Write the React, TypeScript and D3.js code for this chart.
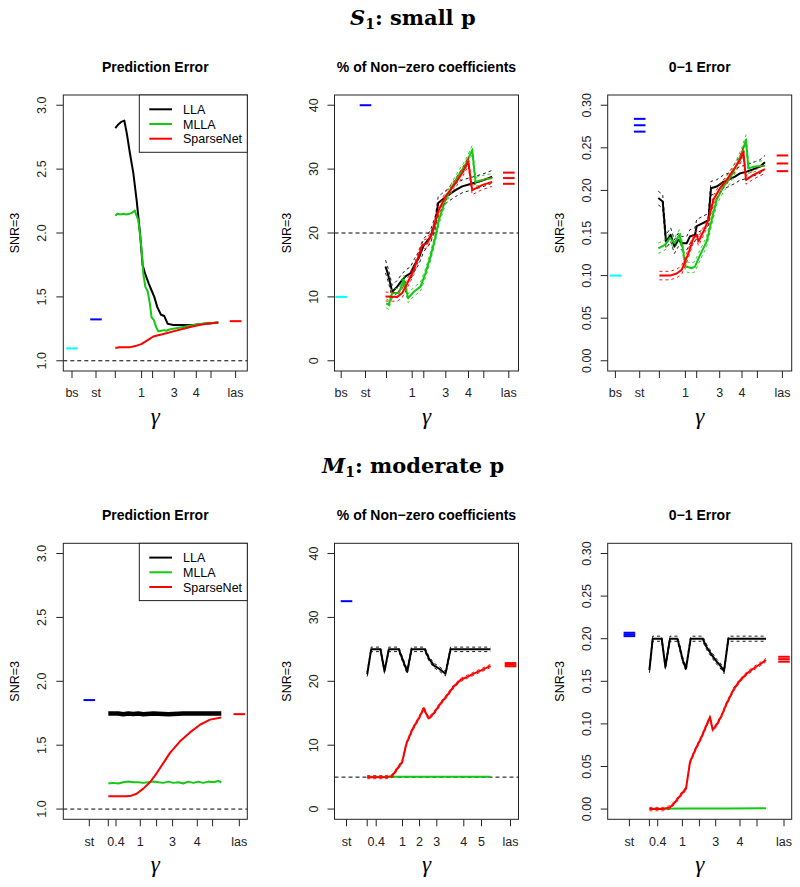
import React from "react";
import * as d3 from "d3";

type Pt = [number, number];

// ---------------- axis ticks (positions along the gamma grid) ----------------
const p1TickPos = [8.7, 32.7, 52, 78.3, 89.3, 111, 133, 147.7, 172.3];
const p2TickPos = [6.7, 31, 52, 77.7, 89.3, 111.3, 134, 149.3, 174.3];
const p3TickPos = [7.7, 32, 51.7, 77.7, 89, 112, 134.3, 149.7, 174.7];
const topTickLabels = ["bs", "st", "", "1", "", "3", "4", "", "las"];
const p4TickPos = [26, 45, 52.7, 77, 93.3, 109.3, 134, 149.3, 176];
const p5TickPos = [12, 32.7, 41.7, 68, 85, 102.3, 129.3, 147, 176];
const p6TickPos = [21.7, 41.7, 50, 74.7, 91.7, 108, 132.3, 149.3, 176.3];
const p4TickLabels = ["st", "", "0.4", "1", "", "3", "4", "", "las"];
const p5TickLabels = ["st", "", "0.4", "1", "2", "3", "4", "5", "las"];
const p6TickLabels = ["st", "", "0.4", "1", "", "3", "4", "", "las"];

const peTicks = [1.0, 1.5, 2.0, 2.5, 3.0];
const nzTicks = [0, 10, 20, 30, 40];
const zoTicks = [0, 0.05, 0.1, 0.15, 0.2, 0.25, 0.3];

const legendLabels = ["LLA", "MLLA", "SparseNet"];

// ---------------- S1 : Prediction Error ----------------
const p1LLA: Pt[] = [[52, 2.82], [55, 2.85], [58, 2.87], [61, 2.88], [63.5, 2.78], [66.7, 2.62], [70, 2.47], [73.3, 2.26], [75, 2.13], [76.7, 2.0], [79.3, 1.75], [82.3, 1.67], [85.7, 1.6], [88.3, 1.55], [91, 1.5], [94, 1.42], [97.7, 1.36], [101, 1.35], [104.3, 1.29], [110, 1.28], [120, 1.28], [130, 1.28], [140, 1.29], [150, 1.295], [155, 1.3]];
const p1MLLA: Pt[] = [[52, 2.135], [54, 2.15], [57, 2.145], [60, 2.15], [63, 2.145], [66, 2.15], [69, 2.16], [71.5, 2.175], [73, 2.14], [75, 2.1], [77, 1.97], [78.5, 1.85], [80, 1.68], [82, 1.58], [84.5, 1.54], [86.5, 1.45], [88.3, 1.34], [90.5, 1.32], [92.5, 1.27], [95, 1.23], [98, 1.235], [101, 1.24], [103, 1.235], [106, 1.245], [110, 1.25], [120, 1.265], [130, 1.28], [140, 1.29], [155, 1.3]];
const p1SN: Pt[] = [[52, 1.1], [56, 1.105], [60, 1.105], [66, 1.105], [72, 1.115], [78, 1.13], [82, 1.15], [86, 1.17], [90, 1.19], [95, 1.2], [100, 1.21], [110, 1.23], [120, 1.25], [130, 1.27], [140, 1.285], [155, 1.3]];
const p1Bs = [1.097];
const p1St = [1.324];
const p1Las = [1.31];

// ---------------- S1 : % non-zero ----------------
const p2LLA: Pt[] = [[51, 14.75], [53, 13.8], [55, 12.6], [57.7, 10.8], [62.7, 11.6], [67, 12.5], [71, 13.2], [76, 13.7], [80, 15], [84.3, 16.1], [89.3, 18.1], [96, 19.4], [101, 21.8], [103.7, 24.7], [107.7, 25.2], [114.3, 26], [121, 26.7], [127.7, 27.3], [134.3, 27.6], [141, 27.9], [147.7, 28.2], [157.7, 28.8]];
const p2MLLA: Pt[] = [[51.7, 9.0], [54.3, 8.75], [57.7, 10.6], [64.3, 10.6], [69.3, 12.7], [73.7, 9.8], [79.3, 10.8], [86, 11.6], [91, 13.7], [96, 16.3], [101, 19.4], [104.3, 22.0], [111, 25.2], [117.7, 27.3], [124.3, 29.1], [131, 30.7], [137.7, 33.0], [141, 28.0], [147.7, 28.3], [157.7, 28.6]];
const p2SN: Pt[] = [[51, 10.05], [62.7, 10], [67.7, 10.6], [72.7, 12.1], [79.3, 14.2], [87.7, 18.1], [92.7, 18.4], [97.7, 20], [104.3, 23.6], [111, 25.7], [121, 27.8], [127.7, 29.4], [133.7, 31.2], [137.7, 26.7], [147.7, 27.5], [157.7, 28.0]];
const p2Bs = [10];
const p2St = [40];
const p2Las = [29.45, 28.6, 27.7];

// ---------------- S1 : 0-1 error ----------------
const p3LLA: Pt[] = [[50.6, 0.191], [55, 0.187], [58.3, 0.14], [63, 0.148], [66.7, 0.134], [70.7, 0.142], [74, 0.138], [79, 0.138], [82.3, 0.146], [87.3, 0.148], [89, 0.158], [95.7, 0.162], [100.7, 0.165], [103.3, 0.2026], [109, 0.2045], [115.7, 0.21], [120.7, 0.2123], [127.3, 0.2162], [132.3, 0.22], [139, 0.222], [145.7, 0.2249], [152.3, 0.228], [157.3, 0.233]];
const p3MLLA: Pt[] = [[50.6, 0.132], [57.3, 0.136], [62.3, 0.144], [66.7, 0.138], [71.7, 0.148], [75, 0.132], [78, 0.1106], [84, 0.1087], [87.3, 0.1106], [92.3, 0.124], [99, 0.14], [104, 0.1654], [109, 0.189], [115.7, 0.2045], [122.3, 0.2143], [129, 0.23], [134, 0.2437], [138.3, 0.2593], [140.7, 0.226], [147.3, 0.228], [157.3, 0.229]];
const p3SN: Pt[] = [[51.7, 0.1], [62.3, 0.1], [69, 0.1025], [74, 0.1067], [80.7, 0.126], [85.7, 0.1438], [89, 0.148], [90.7, 0.14], [95.7, 0.1517], [100.7, 0.1654], [105.7, 0.189], [112.3, 0.2026], [119, 0.2123], [125.7, 0.224], [132.3, 0.2358], [135.7, 0.2455], [138.3, 0.2123], [145.7, 0.2182], [157.3, 0.225]];
const p3Bs = [0.1];
const p3St = [0.284, 0.2765, 0.269];
const p3Las = [0.241, 0.2316, 0.2226];

// ---------------- M1 : Prediction Error ----------------
const p4LLA: Pt[] = [[45, 1.748], [55, 1.748], [60, 1.742], [65, 1.748], [70, 1.745], [75, 1.748], [80, 1.742], [90, 1.748], [100, 1.745], [105, 1.742], [110, 1.745], [120, 1.748], [130, 1.748], [140, 1.748], [158, 1.748]];
const p4MLLA: Pt[] = [[45, 1.2], [50, 1.205], [55, 1.2], [60, 1.21], [65, 1.215], [70, 1.21], [75, 1.21], [80, 1.205], [85, 1.21], [90, 1.215], [95, 1.21], [100, 1.205], [105, 1.215], [110, 1.205], [115, 1.21], [120, 1.2], [125, 1.215], [130, 1.205], [135, 1.215], [140, 1.205], [145, 1.215], [150, 1.21], [155, 1.22], [158, 1.21]];
const p4SN: Pt[] = [[45, 1.1], [55, 1.1], [63.3, 1.1], [68, 1.105], [73.3, 1.12], [80, 1.16], [86.7, 1.21], [93.3, 1.28], [100, 1.36], [106.7, 1.44], [116.7, 1.53], [126.7, 1.6], [136.7, 1.66], [146.7, 1.7], [158, 1.717]];
const p4St = [1.853];
const p4Las = [1.743];

// ---------------- M1 : % non-zero ----------------
const p5LLA: Pt[] = [[32.7, 21.1], [36.7, 25.0], [46, 25.0], [50, 21.6], [54.3, 25.0], [64.3, 25.0], [72.7, 21.5], [77, 25.0], [90.3, 25.0], [94.3, 23.6], [99.3, 22.5], [104.3, 22.0], [111, 21.2], [116, 25.0], [130, 25.0], [145, 25.0], [156, 25.0]];
const p5MLLA: Pt[] = [[32.7, 5.05], [60, 5.05], [90, 5.05], [120, 5.05], [156, 5.05]];
const p5SN: Pt[] = [[32.7, 5], [45, 5], [52.7, 5], [57.7, 5.2], [62.7, 6.3], [67.7, 7.4], [72, 10.3], [77.7, 12.4], [84.3, 14.2], [89.3, 15.8], [92, 14.8], [94.3, 14.2], [99.3, 15], [106, 16.5], [112.7, 17.8], [119.3, 19.2], [126, 20.2], [132.7, 20.7], [139.3, 21.2], [147.7, 21.8], [156, 22.4]];
const p5St = [32.54];
const p5Las = [22.35, 22.6, 22.85];

// ---------------- M1 : 0-1 error ----------------
const p6LLA: Pt[] = [[41.7, 0.163], [45, 0.2], [54, 0.2], [57.7, 0.167], [62.3, 0.2], [69.7, 0.2], [72, 0.19], [75, 0.175], [78.3, 0.165], [83, 0.2], [95, 0.2], [99, 0.19], [104, 0.181], [109, 0.173], [112.3, 0.169], [116.3, 0.162], [120.7, 0.2], [140, 0.2], [158.3, 0.2]];
const p6MLLA: Pt[] = [[41.7, 0.0005], [80, 0.0008], [120, 0.0008], [158.3, 0.001]];
const p6SN: Pt[] = [[41.7, 0], [55.7, 0], [62.3, 0.002], [67.3, 0.008], [74, 0.018], [78.3, 0.024], [82.3, 0.055], [87.3, 0.069], [94, 0.085], [99, 0.099], [102.3, 0.108], [105, 0.093], [109, 0.099], [114, 0.11], [119, 0.124], [125.7, 0.14], [132.3, 0.151], [139, 0.159], [145.7, 0.165], [152.3, 0.17], [158.3, 0.175]];
const p6St = [0.203, 0.205, 0.207];
const p6Las = [0.1788, 0.176, 0.173];

// ---------------- style ----------------
const BLACK = "#000000";
const GREEN = "#14C814";
const RED = "#FF0000";
const BLUE = "#0000FF";
const CYAN = "#00FFFF";
const SANS = "'Liberation Sans', Arial, Helvetica, sans-serif";
const SERIF = "'DejaVu Serif', 'Liberation Serif', serif";
const TIMES = "'Liberation Serif', 'DejaVu Serif', serif";
const BOX_W = 184;
const BOX_H = 276;
const DASH_HALF = 5.8;

interface Series { pts: Pt[]; color: string; se: number; width: number; }

interface PanelProps {
  left: number;
  top: number;
  title: string;
  yLim: [number, number];
  yTicks: number[];
  yFmt: (v: number) => string;
  tickPos: number[];
  tickLabels: string[];
  series: Series[];
  bs?: number[];
  st?: number[];
  las?: number[];
  refY?: number;
  legend?: boolean;
}

function Panel(p: PanelProps) {
  const x = d3.scaleLinear().domain([0, BOX_W]).range([p.left, p.left + BOX_W]);
  const pad = (p.yLim[1] - p.yLim[0]) * 0.04;
  const y = d3.scaleLinear().domain([p.yLim[0] - pad, p.yLim[1] + pad]).range([p.top + BOX_H, p.top]);
  const line = d3.line<Pt>().x((d) => x(d[0])).y((d) => y(d[1]));
  const bottom = p.top + BOX_H;
  const posOf = (lab: string) => p.tickPos[p.tickLabels.indexOf(lab)];

  const dashes = (vals: number[] | undefined, lab: string, color: string) =>
    vals
      ? vals.map((v, i) => (
          <line key={lab + i} x1={x(posOf(lab) - DASH_HALF)} x2={x(posOf(lab) + DASH_HALF)} y1={y(v)} y2={y(v)} stroke={color} strokeWidth={2} />
        ))
      : null;

  return (
    <g>
      <text x={p.left + BOX_W / 2} y={p.top - 23.5} textAnchor="middle" fontFamily={SANS} fontWeight="bold" fontSize={14}>
        {p.title}
      </text>
      {/* y axis */}
      {p.yTicks.map((t) => (
        <g key={"y" + t}>
          <line x1={p.left - 7} x2={p.left} y1={y(t)} y2={y(t)} stroke="#222" strokeWidth={1} />
          <text transform={`translate(${p.left - 17},${y(t)}) rotate(-90)`} textAnchor="middle" fontFamily={SANS} fontSize={12.5} fill="#222">
            {p.yFmt(t)}
          </text>
        </g>
      ))}
      <text transform={`translate(${p.left - 44},${p.top + BOX_H / 2}) rotate(-90)`} textAnchor="middle" fontFamily={SANS} fontSize={12.5}>
        SNR=3
      </text>
      {/* x axis */}
      {p.tickPos.map((t, i) => (
        <g key={"x" + i}>
          <line x1={x(t)} x2={x(t)} y1={bottom} y2={bottom + 7} stroke="#222" strokeWidth={1} />
          {p.tickLabels[i] ? (
            <text x={x(t)} y={bottom + 26.3} textAnchor="middle" fontFamily={SANS} fontSize={12.5} fill="#222">
              {p.tickLabels[i]}
            </text>
          ) : null}
        </g>
      ))}
      <text x={p.left + BOX_W / 2} y={bottom + 52.5} textAnchor="middle" fontFamily={TIMES} fontStyle="italic" fontSize={23}>
        γ
      </text>
      {/* reference line */}
      {p.refY !== undefined ? (
        <line x1={p.left} x2={p.left + BOX_W} y1={y(p.refY)} y2={y(p.refY)} stroke="#000" strokeWidth={1} strokeDasharray="4,3" />
      ) : null}
      {/* series */}
      {p.series.map((s, i) => (
        <g key={"s" + i}>
          {s.se > 0 ? (
            <>
              <path d={line(s.pts.map((d) => [d[0], d[1] + s.se] as Pt)) || ""} fill="none" stroke={s.color} strokeWidth={0.9} strokeDasharray="3,3" />
              <path d={line(s.pts.map((d) => [d[0], d[1] - s.se] as Pt)) || ""} fill="none" stroke={s.color} strokeWidth={0.9} strokeDasharray="3,3" />
            </>
          ) : null}
          <path d={line(s.pts) || ""} fill="none" stroke={s.color} strokeWidth={s.width} strokeLinejoin="round" />
        </g>
      ))}
      {dashes(p.bs, "bs", CYAN)}
      {dashes(p.st, "st", BLUE)}
      {dashes(p.las, "las", RED)}
      {/* frame */}
      <rect x={p.left} y={p.top} width={BOX_W} height={BOX_H} fill="none" stroke="#222" strokeWidth={1} />
      {p.legend ? (
        <g>
          <rect x={p.left + 76} y={p.top} width={BOX_W - 76} height={57.3} fill="#fff" stroke="#222" strokeWidth={1} />
          {legendLabels.map((lab, i) => (
            <g key={lab}>
              <line x1={p.left + 86} x2={p.left + 108.7} y1={p.top + 14.3 + i * 14.7} y2={p.top + 14.3 + i * 14.7} stroke={[BLACK, GREEN, RED][i]} strokeWidth={2} />
              <text x={p.left + 119.7} y={p.top + 18.8 + i * 14.7} fontFamily={SANS} fontSize={12.5}>
                {lab}
              </text>
            </g>
          ))}
        </g>
      ) : null}
    </g>
  );
}

const fmt1 = (v: number) => v.toFixed(1);
const fmt0 = (v: number) => String(v);
const fmt2 = (v: number) => v.toFixed(2);

export default function App() {
  const topY = 95;
  const botY = 543.3;
  const lefts = [63.3, 334.5, 607.7];
  return (
    <svg width={800} height={887} style={{ position: "absolute", left: 0, top: 0, background: "#fff" }} xmlns="http://www.w3.org/2000/svg">
      <rect width={800} height={887} fill="#fff" />
      <text x={350} y={25} fontFamily={SERIF} fontWeight="bold" fontSize={21}>
        <tspan fontStyle="italic">S</tspan>
        <tspan fontSize={14} dy={4}>1</tspan>
        <tspan dy={-4}>: small p</tspan>
      </text>
      <text x={322} y={473} fontFamily={SERIF} fontWeight="bold" fontSize={21}>
        <tspan fontStyle="italic">M</tspan>
        <tspan fontSize={14} dy={4}>1</tspan>
        <tspan dy={-4}>: moderate p</tspan>
      </text>

      <Panel left={lefts[0]} top={topY} title="Prediction Error" yLim={[1, 3]} yTicks={peTicks} yFmt={fmt1}
        tickPos={p1TickPos} tickLabels={topTickLabels} refY={1} legend
        series={[
          { pts: p1LLA, color: BLACK, se: 0, width: 2 },
          { pts: p1MLLA, color: GREEN, se: 0, width: 2 },
          { pts: p1SN, color: RED, se: 0, width: 2 },
        ]}
        bs={p1Bs} st={p1St} las={p1Las} />
      <Panel left={lefts[1]} top={topY} title="% of Non−zero coefficients" yLim={[0, 40]} yTicks={nzTicks} yFmt={fmt0}
        tickPos={p2TickPos} tickLabels={topTickLabels} refY={20}
        series={[
          { pts: p2LLA, color: BLACK, se: 1.0, width: 2 },
          { pts: p2MLLA, color: GREEN, se: 0.7, width: 2 },
          { pts: p2SN, color: RED, se: 0.7, width: 2 },
        ]}
        bs={p2Bs} st={p2St} las={p2Las} />
      <Panel left={lefts[2]} top={topY} title="0−1 Error" yLim={[0, 0.3]} yTicks={zoTicks} yFmt={fmt2}
        tickPos={p3TickPos} tickLabels={topTickLabels}
        series={[
          { pts: p3LLA, color: BLACK, se: 0.008, width: 2 },
          { pts: p3MLLA, color: GREEN, se: 0.006, width: 2 },
          { pts: p3SN, color: RED, se: 0.005, width: 2 },
        ]}
        bs={p3Bs} st={p3St} las={p3Las} />

      <Panel left={lefts[0]} top={botY} title="Prediction Error" yLim={[1, 3]} yTicks={peTicks} yFmt={fmt1}
        tickPos={p4TickPos} tickLabels={p4TickLabels} refY={1} legend
        series={[
          { pts: p4LLA, color: BLACK, se: 0, width: 4.5 },
          { pts: p4MLLA, color: GREEN, se: 0, width: 2 },
          { pts: p4SN, color: RED, se: 0, width: 2 },
        ]}
        st={p4St} las={p4Las} />
      <Panel left={lefts[1]} top={botY} title="% of Non−zero coefficients" yLim={[0, 40]} yTicks={nzTicks} yFmt={fmt0}
        tickPos={p5TickPos} tickLabels={p5TickLabels} refY={5}
        series={[
          { pts: p5LLA, color: BLACK, se: 0.35, width: 2 },
          { pts: p5MLLA, color: GREEN, se: 0, width: 2 },
          { pts: p5SN, color: RED, se: 0.25, width: 2 },
        ]}
        st={p5St} las={p5Las} />
      <Panel left={lefts[2]} top={botY} title="0−1 Error" yLim={[0, 0.3]} yTicks={zoTicks} yFmt={fmt2}
        tickPos={p6TickPos} tickLabels={p6TickLabels}
        series={[
          { pts: p6LLA, color: BLACK, se: 0.003, width: 2 },
          { pts: p6MLLA, color: GREEN, se: 0, width: 2 },
          { pts: p6SN, color: RED, se: 0.002, width: 2 },
        ]}
        st={p6St} las={p6Las} />
    </svg>
  );
}
